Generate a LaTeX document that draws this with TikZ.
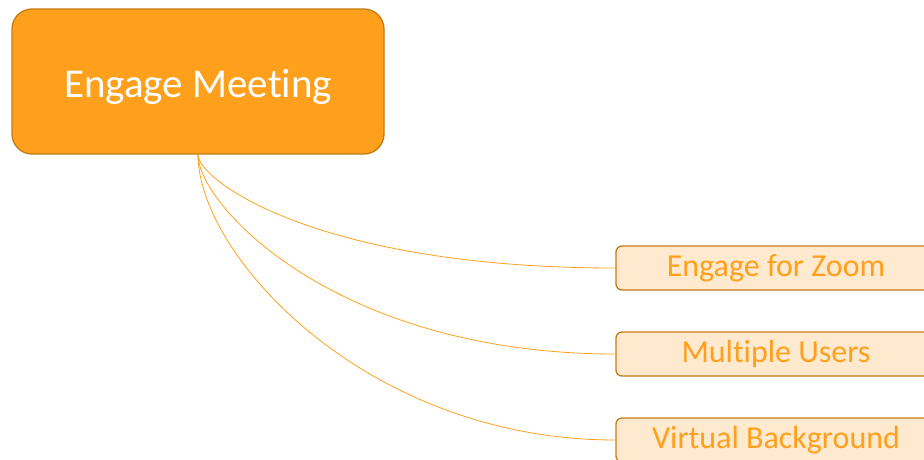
\documentclass[tikz,border=0pt]{standalone}
\usepackage{fontspec}
\setmainfont{Carlito}[Ligatures=NoCommon, RawFeature={-liga;-calt}]
\definecolor{mainfill}{HTML}{FFA01C}
\definecolor{mainedge}{HTML}{C27C14}
\definecolor{subfill}{HTML}{FFE9CF}
\definecolor{subtext}{HTML}{FFA01C}
\begin{document}
\begin{tikzpicture}[x=1pt, y=1pt,
    topic/.style={draw=mainedge, line width=1.3pt, fill=mainfill, rounded corners=20pt,
        minimum width=372pt, minimum height=145pt, text height=31pt, text depth=0pt,
        text=white, font=\fontsize{41}{43}\selectfont},
    subtopic/.style={draw=mainedge, line width=1.3pt, fill=subfill, rounded corners=6pt,
        minimum width=320pt, minimum height=44pt, text height=17pt, text depth=0pt,
        text=subtext, font=\fontsize{32}{34}\selectfont},
    link/.style={draw=mainfill, line width=0.8pt}]
    \useasboundingbox (0,0) rectangle (924,-460);

    % Knoten
    \node[topic] (meeting) at (198,-81.5) {Engage Meeting};
    \node[subtopic] (zoom) at (776,-268) {Engage for Zoom};
    \node[subtopic] (users) at (776,-354) {Multiple Users};
    \node[subtopic] (bg) at (776,-440) {Virtual Background};

    % Verbindungen
    \draw[link] (meeting.south) to[out=-90, in=180, out distance=25pt, in distance=300pt] (zoom.west);
    \draw[link] (meeting.south) to[out=-90, in=180, out distance=50pt, in distance=280pt] (users.west);
    \draw[link] (meeting.south) to[out=-90, in=180, out distance=100pt, in distance=250pt] (bg.west);
\end{tikzpicture}
\end{document}
